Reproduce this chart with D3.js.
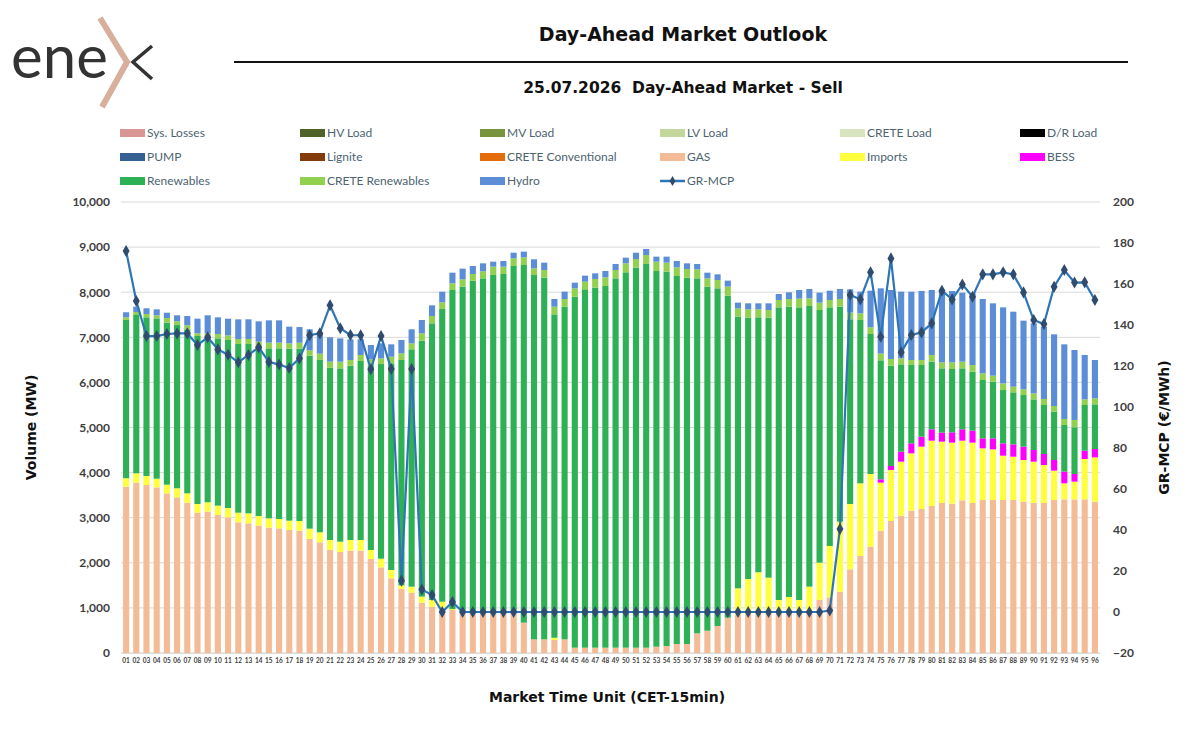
<!DOCTYPE html>
<html>
<head>
<meta charset="utf-8">
<script src="https://cdn.jsdelivr.net/npm/d3@7"></script>
<style>
  body { margin: 0; background: #fff; }
  svg text { font-family: "Lato", "Open Sans", sans-serif; }
  .ttl { font-family: "DejaVu Sans", sans-serif !important; font-weight: bold; fill: #111; }
</style>
</head>
<body>
<div id="chart"></div>
<script>
// Market time units 01..96
const mtu = ["01","02","03","04","05","06","07","08","09","10","11","12","13","14","15","16","17","18","19","20","21","22","23","24","25","26","27","28","29","30","31","32","33","34","35","36","37","38","39","40","41","42","43","44","45","46","47","48","49","50","51","52","53","54","55","56","57","58","59","60","61","62","63","64","65","66","67","68","69","70","71","72","73","74","75","76","77","78","79","80","81","82","83","84","85","86","87","88","89","90","91","92","93","94","95","96"];

const gas = [3690,3777,3725,3673,3540,3452,3333,3112,3134,3060,3008,2897,2875,2823,2779,2764,2727,2712,2528,2454,2284,2239,2269,2269,2084,1899,1656,
  1420,1337,1116,1027,
  990,953,917,880,880,880,880,880,673,303,303,288,303,
  118,118,118,118,118,118,118,118,140,155,200,200,436,495,599,783,
  843,865,865,865,865,865,865,886,1175,1234,1360,
  1855,2151,2358,2712,2927,3045,3156,3193,3259,3326,3311,3385,3326,3392,3392,3392,3392,3355,3326,3326,3392,3407,3407,3407,3355];

const imports = [185,207,200,192,192,200,207,192,207,207,207,214,222,214,207,207,207,214,229,222,222,229,237,237,200,192,185,
  80,133,134,148,
  148,20,0,0,0,0,0,0,0,0,0,50,0,
  0,0,0,0,0,0,0,0,0,0,0,0,0,0,0,0,
  591,776,925,805,310,377,310,585,828,1139,1552,
  1449,1611,1611,1065,1131,1197,1271,1382,1449,1360,1353,1323,1338,1146,1124,983,961,924,916,842,651,355,392,894,983];

const bess = [0,0,0,0,0,0,0,0,0,0,0,0,0,0,0,0,0,0,0,0,0,0,0,0,0,0,0,
  0,0,0,0,
  0,0,0,0,0,0,0,0,0,0,0,0,0,
  0,0,0,0,0,0,0,0,0,0,0,0,0,0,0,0,
  0,0,0,0,0,0,0,0,0,0,0,
  0,0,0,74,88,222,222,222,252,200,229,252,266,222,244,274,274,296,259,244,236,259,170,185,185];

const renewables = [3510,3511,3518,3555,3592,3622,3636,3725,3659,3710,3725,3740,3755,3755,3769,3784,3814,3821,3836,3821,3821,3843,3865,3969,4087,4316,4582,
  4997,5263,5675,6135,
  6489,7076,7206,7376,7427,7501,7524,7701,7930,8078,8019,7171,7376,
  7783,7946,7983,8020,8189,8323,8426,8507,8330,8300,8159,8122,7871,7628,7487,7140,
  6023,5794,5653,5765,6489,6437,6489,6223,5602,5291,4767,
  4096,3622,3104,2639,2225,1936,1737,1589,1500,1426,1404,1352,1308,1293,1256,1182,1153,1145,1123,1087,1072,1035,1035,1013,990];

const creteRenewables = [60,67,74,67,103,81,89,59,89,96,103,111,111,111,126,126,118,133,118,140,133,148,126,133,140,126,148,
  148,133,163,162,
  148,148,162,148,156,185,162,170,170,148,170,170,170,
  185,169,192,192,185,199,192,200,207,200,192,192,200,184,184,200,
  185,185,177,170,163,170,193,170,163,163,170,
  150,148,148,150,148,134,111,111,148,133,148,148,148,148,133,148,125,126,133,133,126,133,163,125,133];

const hydro = [110,118,126,133,118,133,207,325,399,370,370,436,436,451,495,495,370,347,466,436,540,517,458,347,318,333,273,
  295,311,296,237,
  237,236,237,177,177,111,126,125,126,200,163,170,163,
  125,134,125,140,133,126,140,133,111,133,141,126,118,126,126,133,
  126,133,133,148,133,148,192,207,222,207,222,
  514,480,813,1446,1530,1478,1515,1530,1441,1589,1582,1530,1589,1648,1604,1685,1663,1523,1553,1604,1589,1655,1551,984,851];

const grMcp = [176.1,151.7,134.6,134.6,135.6,135.9,135.9,130.2,134,128.1,125.5,121.8,125.4,129.1,122,120.7,119,123.7,135,135.9,149.6,138.4,135.1,135,118.4,134.6,118.5,15.3,118.5,11,8.3,0,4.9,
  0,0,0,0,0,0,0,0,0,0,0,0,0,0,0,0,0,0,0,0,0,0,0,0,0,0,0,0,0,0,0,0,0,0,0,0,
  0.7,40.5,
  154.6,152.5,165.7,134.3,172.5,126.7,135.1,136.4,140.8,156.7,152.5,159.8,153.8,164.7,164.7,165.7,164.7,155.9,142.4,140.5,158.7,166.8,160.7,160.8,152.2];

const legendItems = [
  ["Sys. Losses", "#d99694"], ["HV Load", "#4f6228"], ["MV Load", "#77933c"], ["LV Load", "#c3d69b"], ["CRETE Load", "#d7e4bd"], ["D/R Load", "#000000"],
  ["PUMP", "#376092"], ["Lignite", "#843c0c"], ["CRETE Conventional", "#e46c0a"], ["GAS", "#f4bc96"], ["Imports", "#ffff40"], ["BESS", "#ff00ff"],
  ["Renewables", "#2eb055"], ["CRETE Renewables", "#92d050"], ["Hydro", "#5b8ed6"], ["GR-MCP", "line"]
];

const leftTicks = [0,1000,2000,3000,4000,5000,6000,7000,8000,9000,10000];
const rightTicks = [-20,0,20,40,60,80,100,120,140,160,180,200];

const W = 1204, H = 729;
const m = { left: 121, right: 1100, top: 202, bottom: 653 };

const svg = d3.select("#chart").append("svg")
  .attr("width", W).attr("height", H);

// logo
const logo = svg.append("g");
logo.append("text")
  .attr("x", 11).attr("y", 78)
  .style("font-size", "60px").style("font-weight", 400)
  .style("font-family", "Lato, sans-serif")
  .attr("fill", "#333")
  .text("ene");
logo.append("path")
  .attr("d", "M100,18 L127,62 L102,107")
  .attr("fill", "none").attr("stroke", "#d8ae9c").attr("stroke-width", 6);
logo.append("path")
  .attr("d", "M152,46 L133,62 L152,79")
  .attr("fill", "none").attr("stroke", "#333").attr("stroke-width", 3.5);

// titles
svg.append("text").attr("class", "ttl")
  .attr("x", 683).attr("y", 41).attr("text-anchor", "middle")
  .style("font-size", "19px")
  .text("Day-Ahead Market Outlook");
svg.append("line")
  .attr("x1", 234).attr("x2", 1128).attr("y1", 62).attr("y2", 62)
  .attr("stroke", "#111").attr("stroke-width", 2);
svg.append("text").attr("class", "ttl")
  .attr("x", 683).attr("y", 93).attr("text-anchor", "middle")
  .style("font-size", "15.5px")
  .attr("xml:space", "preserve")
  .text("25.07.2026  Day-Ahead Market - Sell");

// legend
const leg = svg.append("g");
legendItems.forEach((d, i) => {
  const col = i % 6, row = Math.floor(i / 6);
  const gx = 120 + col * 180, gy = 133 + row * 24;
  if (d[1] === "line") {
    leg.append("line").attr("x1", gx).attr("x2", gx + 25).attr("y1", gy).attr("y2", gy)
      .attr("stroke", "#2e75b6").attr("stroke-width", 2.5);
    leg.append("path").attr("d", d3.symbol(d3.symbolDiamond, 30)())
      .attr("transform", `translate(${gx + 12.5},${gy})`).attr("fill", "#2f4b6e");
  } else {
    leg.append("rect").attr("x", gx).attr("y", gy - 4).attr("width", 25).attr("height", 8)
      .attr("fill", d[1]);
  }
  leg.append("text").attr("x", gx + 27).attr("y", gy + 4)
    .style("font-size", "12px").attr("fill", "#4d6470").text(d[0]);
});

// scales
const x = d3.scaleBand().domain(mtu).range([m.left, m.right]).paddingInner(0.4).paddingOuter(0.2);
const yL = d3.scaleLinear().domain([0, 10000]).range([m.bottom, m.top]);
const yR = d3.scaleLinear().domain([-20, 200]).range([m.bottom, m.top]);

// gridlines
svg.append("g").selectAll("line").data(leftTicks).join("line")
  .attr("x1", m.left).attr("x2", m.right)
  .attr("y1", d => yL(d)).attr("y2", d => yL(d))
  .attr("stroke", "#d9d9d9").attr("stroke-width", 1);

// stacked bars
const keys = ["gas", "imports", "bess", "renewables", "creteRenewables", "hydro"];
const colors = { gas: "#f4bc96", imports: "#ffff40", bess: "#ff00ff", renewables: "#2eb055", creteRenewables: "#92d050", hydro: "#5b8ed6" };
const rows = mtu.map((t, i) => ({
  mtu: t, gas: gas[i], imports: imports[i], bess: bess[i],
  renewables: renewables[i], creteRenewables: creteRenewables[i], hydro: hydro[i]
}));
const series = d3.stack().keys(keys)(rows);

svg.append("g").selectAll("g").data(series).join("g")
  .attr("fill", s => colors[s.key])
  .selectAll("rect").data(s => s).join("rect")
  .attr("x", d => x(d.data.mtu))
  .attr("width", x.bandwidth())
  .attr("y", d => yL(d[1]))
  .attr("height", d => yL(d[0]) - yL(d[1]));

// axes
const axL = svg.append("g").attr("transform", `translate(${m.left - 8},0)`)
  .call(d3.axisLeft(yL).tickValues(leftTicks).tickFormat(d3.format(",")).tickSize(0));
axL.select(".domain").remove();
axL.selectAll("text").style("font-size", "12px").style("font-weight", "bold").attr("fill", "#404040");

const axR = svg.append("g").attr("transform", `translate(${m.right + 10},0)`)
  .call(d3.axisRight(yR).tickValues(rightTicks).tickSize(0));
axR.select(".domain").remove();
axR.selectAll("text").style("font-size", "12px").style("font-weight", "bold").attr("fill", "#404040");

const axB = svg.append("g").attr("transform", `translate(0,${m.bottom})`)
  .call(d3.axisBottom(x).tickSize(0).tickPadding(5));
axB.select(".domain").attr("stroke", "#d9d9d9");
axB.selectAll("text").style("font-size", "6.5px").style("font-weight", "bold").attr("fill", "#404040");

// GR-MCP line
const line = d3.line()
  .x((d, i) => x(mtu[i]) + x.bandwidth() / 2)
  .y(d => yR(d));
svg.append("path").datum(grMcp)
  .attr("d", line).attr("fill", "none")
  .attr("stroke", "#2e75b6").attr("stroke-width", 2.2);
svg.append("g").selectAll("path").data(grMcp).join("path")
  .attr("d", d3.symbol(d3.symbolDiamond, 42)())
  .attr("transform", (d, i) => `translate(${x(mtu[i]) + x.bandwidth() / 2},${yR(d)})`)
  .attr("fill", "#2f4b6e");

// axis titles
svg.append("text").attr("class", "ttl")
  .attr("transform", `translate(36,${(m.top + m.bottom) / 2}) rotate(-90)`)
  .attr("text-anchor", "middle")
  .style("font-size", "14px")
  .text("Volume (MW)");
svg.append("text").attr("class", "ttl")
  .attr("transform", `translate(1169,${(m.top + m.bottom) / 2}) rotate(-90)`)
  .attr("text-anchor", "middle")
  .style("font-size", "14px")
  .text("GR-MCP (€/MWh)");
svg.append("text").attr("class", "ttl")
  .attr("x", 607).attr("y", 702).attr("text-anchor", "middle")
  .style("font-size", "14px")
  .text("Market Time Unit (CET-15min)");
</script>
</body>
</html>
